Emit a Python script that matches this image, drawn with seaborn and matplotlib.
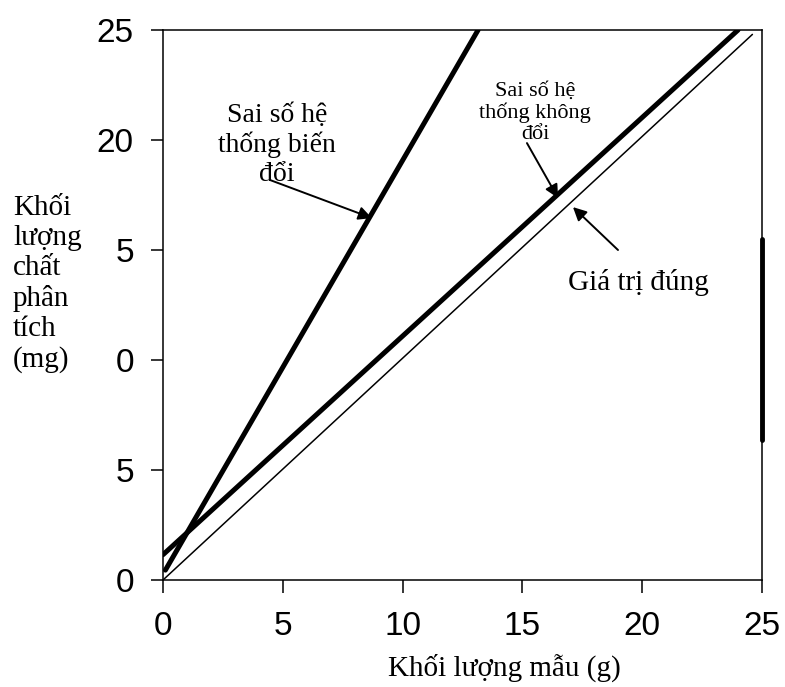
import matplotlib
matplotlib.use("Agg")
import matplotlib.pyplot as plt
import seaborn as sns

# data (x = sample mass in g, y = analyte mass in mg)
true_x = [0, 24.6]
true_y = [0, 24.8]
const_x = [0, 24.0]
const_y = [1.15, 25]
prop_x = [0.1, 13.15]
prop_y = [0.45, 25]

x_ticks = [0, 5, 10, 15, 20, 25]
x_tick_labels = ["0", "5", "10", "15", "20", "25"]
y_ticks = [0, 5, 10, 15, 20, 25]
y_tick_labels = ["0", "5", "0", "5", "20", "25"]

sns.set_style("white")
plt.rcParams["font.family"] = ["Liberation Serif", "DejaVu Serif"]
plt.rcParams["text.color"] = "black"

fig = plt.figure(figsize=(7.85, 6.87), dpi=100)
ax = fig.add_axes([163 / 785, 1 - 580 / 687, 599 / 785, 550 / 687])

sns.lineplot(x=true_x, y=true_y, ax=ax, color="black", lw=1.1)
sns.lineplot(x=const_x, y=const_y, ax=ax, color="black", lw=3.6)
sns.lineplot(x=prop_x, y=prop_y, ax=ax, color="black", lw=3.6)

ax.set_xlim(0, 25)
ax.set_ylim(0, 25)
ax.set_xticks(x_ticks)
ax.set_xticklabels(x_tick_labels, family=["Liberation Sans"], fontsize=24)
ax.set_yticks(y_ticks)
ax.set_yticklabels(y_tick_labels, family=["Liberation Sans"], fontsize=24)
ax.tick_params(axis="x", bottom=True, direction="out", length=9, width=1.1,
               pad=13, color="black", labelcolor="black")
ax.tick_params(axis="y", left=True, direction="out", length=9, width=1.1,
               pad=12, color="black", labelcolor="black")
for s in ax.spines.values():
    s.set_color("black")
    s.set_linewidth(1.1)
ax.set_xlabel("")
ax.set_ylabel("")

# scanned thick bit on the right border
ax.axvline(25, ymin=0.255, ymax=0.62, color="black", lw=3.5, clip_on=False)

arrow = dict(arrowstyle="-|>", color="black", lw=1.4, mutation_scale=20,
             shrinkA=0, shrinkB=0)

ax.text(4.76, 19.77, "Sai số hệ\nthống biến\nđổi", ha="center", va="center",
        fontsize=20, linespacing=1.2)
ax.annotate("", xy=(8.72, 16.45), xytext=(4.47, 18.18), arrowprops=arrow)

ax.text(15.53, 21.23, "Sai số hệ\nthống không\nđổi", ha="center", va="center",
        fontsize=16, linespacing=1.15)
ax.annotate("", xy=(16.49, 17.36), xytext=(15.19, 19.86), arrowprops=arrow)

ax.text(19.82, 13.5, "Giá trị đúng", ha="center", va="center", fontsize=21)
ax.annotate("", xy=(17.11, 16.95), xytext=(18.99, 15.0), arrowprops=arrow)

fig.text(13 / 785, 1 - 284 / 687, "Khối\nlượng\nchất\nphân\ntích\n(mg)",
         ha="left", va="center", fontsize=21, linespacing=1.2)
fig.text(504 / 785, 1 - 668 / 687, "Khối lượng mẫu (g)", ha="center",
         va="center", fontsize=21)

fig.savefig("out.png", dpi=100)
